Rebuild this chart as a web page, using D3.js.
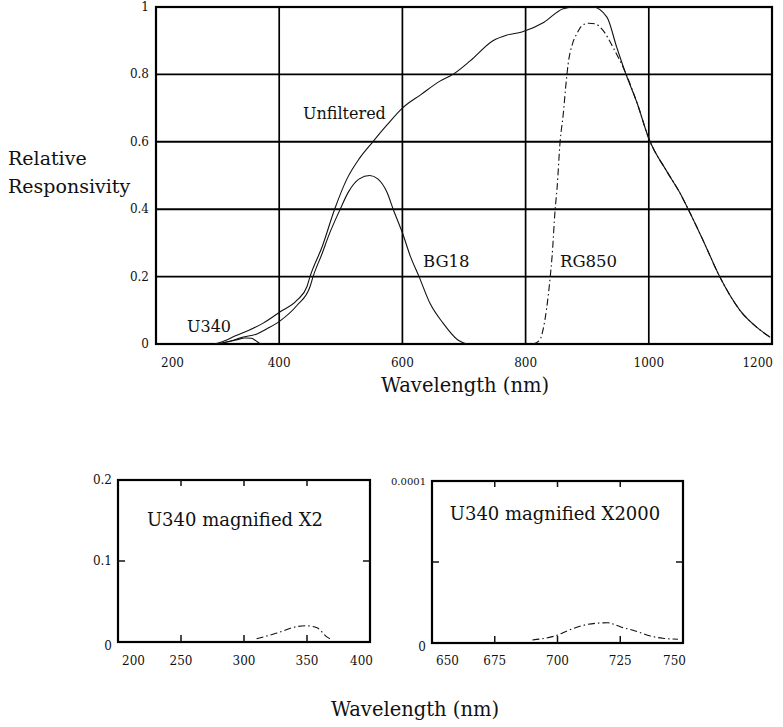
<!DOCTYPE html>
<html>
<head>
<meta charset="utf-8">
<script src="https://cdn.jsdelivr.net/npm/d3@7"></script>
<style>
  html, body { margin: 0; padding: 0; background: #fff; }
  svg { display: block; }
  text { font-family: "DejaVu Serif", "Liberation Serif", serif; fill: #111; }
</style>
</head>
<body>
<script>
// ---------- DATA ----------
// Main chart ticks
const mainXTicks = [200, 400, 600, 800, 1000, 1200];
const mainYTicks = [0, 0.2, 0.4, 0.6, 0.8, 1];
const mainYLabels = ["0", "0.2", "0.4", "0.6", "0.8", "1"];

// Unfiltered response
const unfWl  = [295, 305, 330, 350, 374, 401, 429, 445, 450, 470, 490, 510, 530, 552, 575, 600, 630, 661, 682, 710, 747, 770, 794, 830, 861, 880, 909, 932, 948, 961, 981, 1000, 1030, 1050, 1064, 1090, 1115, 1148, 1175, 1197];
const unfVal = [0, 0.005, 0.025, 0.04, 0.062, 0.095, 0.13, 0.17, 0.2, 0.29, 0.40, 0.49, 0.55, 0.60, 0.65, 0.70, 0.74, 0.78, 0.80, 0.84, 0.90, 0.917, 0.926, 0.955, 0.995, 1.0, 1.0, 0.97, 0.88, 0.81, 0.715, 0.61, 0.51, 0.45, 0.40, 0.30, 0.20, 0.10, 0.05, 0.02];

// BG18 filter
const bg18Wl  = [300, 320, 340, 364, 380, 401, 429, 450, 455, 470, 480, 499, 512, 530, 547, 560, 575, 585, 600, 613, 627, 645, 666, 690, 705];
const bg18Val = [0, 0.008, 0.02, 0.03, 0.045, 0.068, 0.115, 0.17, 0.2, 0.27, 0.32, 0.40, 0.45, 0.49, 0.50, 0.49, 0.45, 0.40, 0.33, 0.26, 0.20, 0.12, 0.062, 0.012, 0];

// RG850 filter
const rg850Wl  = [812, 823, 828, 840, 843, 848, 851, 856, 861, 866, 869, 876, 883, 893, 903, 913, 926, 942, 956, 961, 981, 1000, 1030, 1050, 1064, 1090, 1115, 1148, 1175, 1197];
const rg850Val = [0, 0.012, 0.04, 0.2, 0.26, 0.4, 0.46, 0.6, 0.68, 0.78, 0.83, 0.89, 0.92, 0.947, 0.952, 0.95, 0.93, 0.88, 0.83, 0.81, 0.715, 0.61, 0.51, 0.45, 0.40, 0.30, 0.20, 0.10, 0.05, 0.02];

// U340 filter (main chart)
const u340Wl  = [300, 315, 330, 345, 355, 362, 368, 372];
const u340Val = [0, 0.006, 0.012, 0.018, 0.017, 0.01, 0.002, 0];

// U340 magnified X2 (lower left)
const magAXTicks = [200, 250, 300, 350, 400];
const magAYTicks = [0, 0.1, 0.2];
const magAYLabels = ["0", "0.1", "0.2"];
const magAWl  = [310, 326, 342, 350, 358, 366, 370];
const magAVal = [0.004, 0.011, 0.019, 0.02, 0.0175, 0.006, 0.0025];

// U340 magnified X2000 (lower right)
const magBXTicks = [650, 675, 700, 725, 750];
const magBYTicks = [0, 0.00005, 0.0001];
const magBYLabels = ["0", "", "0.0001"];
const magBWl  = [690, 700, 704, 712, 720, 725, 731, 737, 742, 748];
const magBVal = [0.0000019, 0.0000049, 0.0000076, 0.0000115, 0.0000125, 0.00001, 0.0000074, 0.0000043, 0.0000029, 0.0000023];

// ---------- DRAW ----------
const W = 783, H = 727;
const svg = d3.select("body").append("svg").attr("width", W).attr("height", H);
svg.append("rect").attr("width", W).attr("height", H).attr("fill", "#fff");

const zip = (a, b) => a.map((d, i) => [d, b[i]]);

// Main chart
const mx = d3.scaleLinear().domain([200, 1200]).range([156, 772]);
const my = d3.scaleLinear().domain([0, 1]).range([344, 7]);
const gMain = svg.append("g");

gMain.selectAll("line.vg").data(mainXTicks.slice(1, -1)).join("line")
  .attr("x1", d => mx(d)).attr("x2", d => mx(d))
  .attr("y1", my(0)).attr("y2", my(1))
  .attr("stroke", "#000").attr("stroke-width", 1.7);
gMain.selectAll("line.hg").data(mainYTicks.slice(1, -1)).join("line")
  .attr("x1", mx(200)).attr("x2", mx(1200))
  .attr("y1", d => my(d)).attr("y2", d => my(d))
  .attr("stroke", "#000").attr("stroke-width", 1.9);
gMain.append("rect")
  .attr("x", mx(200)).attr("y", my(1))
  .attr("width", mx(1200) - mx(200)).attr("height", my(0) - my(1))
  .attr("fill", "none").attr("stroke", "#000").attr("stroke-width", 2.2);

const mLine = d3.line().x(d => mx(d[0])).y(d => my(d[1])).curve(d3.curveMonotoneX);
gMain.append("path").attr("d", mLine(zip(unfWl, unfVal)))
  .attr("fill", "none").attr("stroke", "#111").attr("stroke-width", 1.1);
gMain.append("path").attr("d", mLine(zip(bg18Wl, bg18Val)))
  .attr("fill", "none").attr("stroke", "#111").attr("stroke-width", 1.1);
gMain.append("path").attr("d", mLine(zip(rg850Wl, rg850Val)))
  .attr("fill", "none").attr("stroke", "#111").attr("stroke-width", 1.1)
  .attr("stroke-dasharray", "7,3,1.5,3");
gMain.append("path").attr("d", mLine(zip(u340Wl, u340Val)))
  .attr("fill", "none").attr("stroke", "#111").attr("stroke-width", 1.1);

// main tick labels
gMain.selectAll("text.xl").data(mainXTicks).join("text")
  .attr("x", (d, i) => i === 0 ? mx(d) + 5 : (i === mainXTicks.length - 1 ? mx(d) + 1 : mx(d)))
  .attr("y", 367)
  .attr("text-anchor", (d, i) => i === 0 ? "start" : (i === mainXTicks.length - 1 ? "end" : "middle"))
  .attr("font-size", 12).text(d => d);
gMain.selectAll("text.yl").data(mainYTicks).join("text")
  .attr("x", 149).attr("y", d => my(d) + 4)
  .attr("text-anchor", "end").attr("font-size", 12)
  .text((d, i) => mainYLabels[i]);

// main annotations
gMain.append("text").attr("x", 303).attr("y", 119).attr("font-size", 16).text("Unfiltered");
gMain.append("text").attr("x", 423).attr("y", 267).attr("font-size", 16.5).text("BG18");
gMain.append("text").attr("x", 560).attr("y", 267).attr("font-size", 16.5).text("RG850");
gMain.append("text").attr("x", 187).attr("y", 332).attr("font-size", 16).text("U340");
svg.append("text").attr("x", 8).attr("y", 165).attr("font-size", 19).text("Relative");
svg.append("text").attr("x", 8).attr("y", 193).attr("font-size", 19).text("Responsivity");
svg.append("text").attr("x", 465).attr("y", 392).attr("text-anchor", "middle").attr("font-size", 19.5).text("Wavelength (nm)");

// Small panels
function panel(xDom, xRange, yDom, yRange, xTicks, yTicks, yLabels, wl, val, title, titleX, titleY, yLabelSize) {
  const x = d3.scaleLinear().domain(xDom).range(xRange);
  const y = d3.scaleLinear().domain(yDom).range(yRange);
  const g = svg.append("g");
  g.append("rect")
    .attr("x", x(xDom[0])).attr("y", y(yDom[1]))
    .attr("width", x(xDom[1]) - x(xDom[0])).attr("height", y(yDom[0]) - y(yDom[1]))
    .attr("fill", "none").attr("stroke", "#000").attr("stroke-width", 2.2);
  const inner = xTicks.slice(1, -1);
  g.selectAll("line.bt").data(inner).join("line")
    .attr("x1", d => x(d)).attr("x2", d => x(d))
    .attr("y1", y(yDom[0])).attr("y2", y(yDom[0]) - 7)
    .attr("stroke", "#111").attr("stroke-width", 1.5);
  g.selectAll("line.tt").data(inner).join("line")
    .attr("x1", d => x(d)).attr("x2", d => x(d))
    .attr("y1", y(yDom[1])).attr("y2", y(yDom[1]) + 6)
    .attr("stroke", "#111").attr("stroke-width", 1.5);
  const yInner = yTicks.slice(1, -1);
  g.selectAll("line.lt").data(yInner).join("line")
    .attr("x1", x(xDom[0])).attr("x2", x(xDom[0]) + 7)
    .attr("y1", d => y(d)).attr("y2", d => y(d))
    .attr("stroke", "#111").attr("stroke-width", 1.5);
  g.selectAll("line.rt").data(yInner).join("line")
    .attr("x1", x(xDom[1])).attr("x2", x(xDom[1]) - 7)
    .attr("y1", d => y(d)).attr("y2", d => y(d))
    .attr("stroke", "#111").attr("stroke-width", 1.5);
  g.selectAll("text.xl").data(xTicks).join("text")
    .attr("x", (d, i) => i === 0 ? x(d) + 4 : (i === xTicks.length - 1 ? x(d) + 3 : x(d)))
    .attr("y", 665)
    .attr("text-anchor", (d, i) => i === 0 ? "start" : (i === xTicks.length - 1 ? "end" : "middle"))
    .attr("font-size", 12).text(d => d);
  g.selectAll("text.yl").data(yTicks).join("text")
    .attr("x", x(xDom[0]) - 6).attr("y", (d, i) => i === 0 ? y(d) + 8 : y(d) + 4)
    .attr("text-anchor", "end").attr("font-size", (d, i) => i === yTicks.length - 1 ? yLabelSize : 12)
    .text((d, i) => yLabels[i]);
  const line = d3.line().x(d => x(d[0])).y(d => y(d[1])).curve(d3.curveMonotoneX);
  g.append("path").attr("d", line(zip(wl, val)))
    .attr("fill", "none").attr("stroke", "#111").attr("stroke-width", 1.1)
    .attr("stroke-dasharray", "7,3,1.5,3");
  g.append("text").attr("x", titleX).attr("y", titleY).attr("text-anchor", "middle")
    .attr("font-size", 18).text(title);
}

panel([200, 400], [118, 370], [0, 0.2], [642, 480], magAXTicks, magAYTicks, magAYLabels,
      magAWl, magAVal, "U340 magnified X2", 235, 526, 12);
panel([650, 750], [432, 683], [0, 0.0001], [643, 481], magBXTicks, magBYTicks, magBYLabels,
      magBWl, magBVal, "U340 magnified X2000", 555, 520, 10);

svg.append("text").attr("x", 415).attr("y", 716).attr("text-anchor", "middle").attr("font-size", 19.5).text("Wavelength (nm)");
</script>
</body>
</html>
